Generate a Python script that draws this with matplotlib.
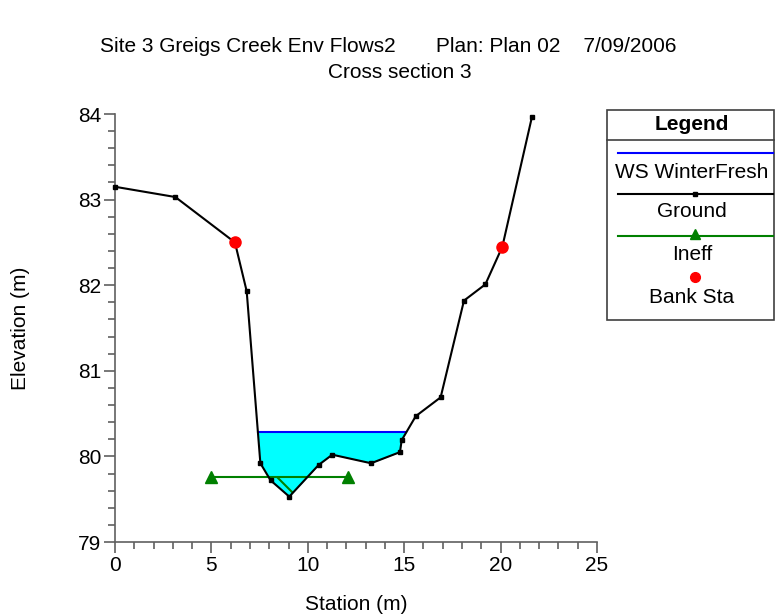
import numpy as np
import matplotlib
matplotlib.use("Agg")
import matplotlib.pyplot as plt
from matplotlib.lines import Line2D
from matplotlib.ticker import MultipleLocator

plt.rcParams['font.family'] = ['Liberation Sans', 'DejaVu Sans']
plt.rcParams['hatch.linewidth'] = 1.5

# Cross section 3 geometry
station = [0.0, 3.13, 6.22, 6.83, 7.54, 8.07, 9.04, 10.56, 11.27, 13.28,
           14.78, 14.87, 15.60, 16.89, 18.10, 19.21, 20.09, 21.63]
elevation = [83.15, 83.03, 82.50, 81.93, 79.92, 79.72, 79.53, 79.90, 80.02, 79.92,
             80.05, 80.19, 80.47, 80.69, 81.82, 82.01, 82.45, 83.97]

ws_elev = 80.28                       # WS WinterFresh
ineff_sta = [5.0, 12.07]              # ineffective flow limits
ineff_elev = 79.76
bank_sta = [6.22, 20.09]
bank_elev = [82.50, 82.45]

title1 = "Site 3 Greigs Creek Env Flows2       Plan: Plan 02    7/09/2006"
title2 = "Cross section 3"

W, H = 775, 616
fig = plt.figure(figsize=(W / 100, H / 100), dpi=100)


def fx(px):
    return px / W


def fy(py):
    return 1 - py / H


ax = fig.add_axes([fx(115), fy(542), fx(597) - fx(115), fy(114) - fy(542)])
ax.set_xlim(0, 25)
ax.set_ylim(79, 84)

x = np.array(station)
z = np.array(elevation)


def crossing(i0, i1, level):
    return x[i0] + (level - z[i0]) / (z[i1] - z[i0]) * (x[i1] - x[i0])


# wetted extent: last drop below the WS on the left, first rise above on the right
below = np.where(z < ws_elev)[0]
li, ri = below[0], below[-1]
xl = crossing(li - 1, li, ws_elev)
xr = crossing(ri, ri + 1, ws_elev)
wx = np.concatenate([[xl], x[li:ri + 1], [xr]])
wz = np.concatenate([[ws_elev], z[li:ri + 1], [ws_elev]])
ax.fill_between(wx, wz, ws_elev, color='#00ffff', lw=0, zorder=1)
ax.plot([xl, xr], [ws_elev, ws_elev], color='#0000ff', lw=1.5, zorder=3)

# hatched ineffective area under the ineffective elevation
fine = np.linspace(ineff_sta[0], ineff_sta[1], 400)
gz = np.interp(fine, x, z)
ax.fill_between(fine, gz, ineff_elev, where=gz < ineff_elev, facecolor='none',
                edgecolor='#008000', hatch='\\', lw=0, zorder=2)

ax.plot(ineff_sta, [ineff_elev, ineff_elev], color='#008000', lw=1.5,
        marker='^', ms=8, zorder=4, clip_on=False)

ax.plot(x, z, color='black', lw=1.5, marker='s', ms=3.5, zorder=5, clip_on=False)
ax.plot(bank_sta, bank_elev, ls='none', marker='o', color='#ff0000', ms=8,
        zorder=6, clip_on=False)

for s in ['top', 'right']:
    ax.spines[s].set_visible(False)
for s in ['left', 'bottom']:
    ax.spines[s].set_color('#606060')
    ax.spines[s].set_linewidth(1.2)

ax.xaxis.set_major_locator(MultipleLocator(5))
ax.xaxis.set_minor_locator(MultipleLocator(1))
ax.yaxis.set_major_locator(MultipleLocator(1))
ax.yaxis.set_minor_locator(MultipleLocator(0.2))
ax.tick_params(which='major', length=8, width=1.2, color='#606060', labelsize=15, pad=2)
ax.tick_params(which='minor', length=5, width=1.2, color='#606060')

fig.text(fx(356), fy(604), "Station (m)", ha='center', va='center', fontsize=15)
fig.text(fx(21), fy(328), "Elevation (m)", ha='center', va='center', fontsize=15,
         rotation=90)

fig.text(fx(388), fy(47), title1, ha='center', va='center', fontsize=15)
fig.text(fx(400), fy(72), title2, ha='center', va='center', fontsize=15)

# legend panel
lx0, lx1, ly0, ly1 = 607, 774, 110, 320
fig.add_artist(plt.Rectangle((fx(lx0), fy(ly1)), fx(lx1) - fx(lx0), fy(ly0) - fy(ly1),
                             transform=fig.transFigure, facecolor='white',
                             edgecolor='#404040', lw=1.2))
fig.add_artist(Line2D([fx(lx0), fx(lx1)], [fy(140), fy(140)], color='#404040', lw=1.2))
cx = 692
fig.text(fx(cx), fy(125), "Legend", ha='center', va='center', fontsize=15, weight='bold')


def legend_line(py, **kw):
    fig.add_artist(Line2D([fx(618), fx(773)], [fy(py), fy(py)], lw=1.5, **kw))


legend_line(153, color='#0000ff')
fig.text(fx(cx), fy(172), "WS WinterFresh", ha='center', va='center', fontsize=15)
legend_line(194, color='black')
fig.add_artist(Line2D([fx(695)], [fy(194)], ls='none', marker='s', ms=3.5, color='black'))
fig.text(fx(cx), fy(212), "Ground", ha='center', va='center', fontsize=15)
legend_line(236, color='#008000')
fig.add_artist(Line2D([fx(695)], [fy(234)], ls='none', marker='^', ms=7, color='#008000'))
fig.text(fx(cx), fy(255), "Ineff", ha='center', va='center', fontsize=15)
fig.add_artist(Line2D([fx(695)], [fy(277)], ls='none', marker='o', ms=7, color='#ff0000'))
fig.text(fx(cx), fy(297), "Bank Sta", ha='center', va='center', fontsize=15)

fig.savefig("out.png", dpi=100)
